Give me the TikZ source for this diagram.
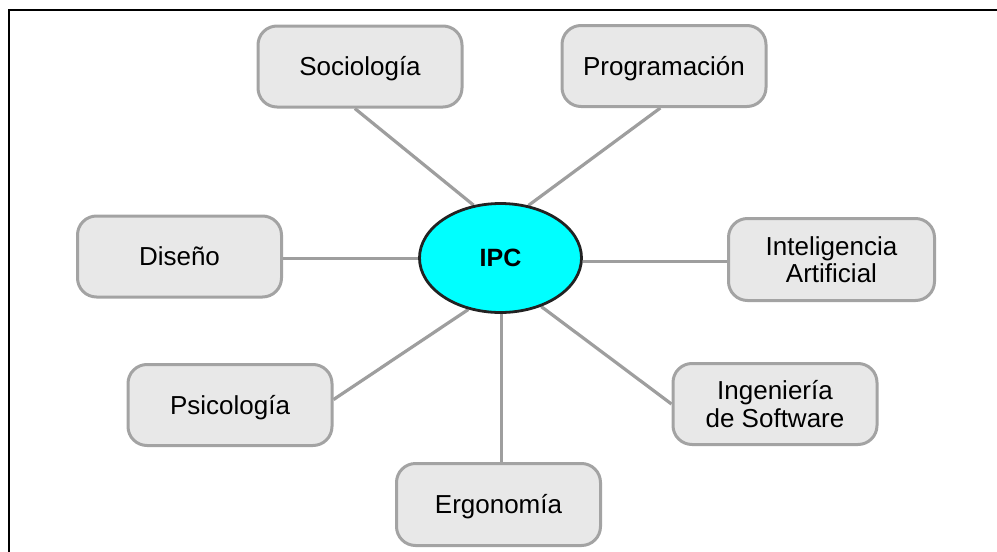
\documentclass[tikz,border=0pt]{standalone}
\usepackage{fontspec}
\setmainfont{Liberation Sans}
\usetikzlibrary{shapes.geometric}
\definecolor{boxfill}{HTML}{E8E8E8}
\definecolor{boxline}{HTML}{A3A3A3}
\definecolor{conn}{HTML}{9E9E9E}
\definecolor{ipcfill}{HTML}{00FFFF}
\definecolor{ipcline}{HTML}{222222}
\pgfdeclarelayer{background}
\pgfsetlayers{background,main}
\begin{document}
\begin{tikzpicture}[x=1pt,y=-1pt,
  topic/.style={draw=boxline, fill=boxfill, line width=3pt, rounded corners=19pt,
    minimum width=204pt, minimum height=81pt, inner sep=0pt,
    font=\fontsize{26}{27.5}\selectfont, align=center},
  oneline/.style={text height=19pt, text depth=1pt},
  hub/.style={ellipse, draw=ipcline, fill=ipcfill, line width=2.8pt,
    minimum width=162pt, minimum height=109pt, inner sep=0pt,
    font=\fontsize{25}{27}\selectfont\bfseries},
  link/.style={draw=conn, line width=3.2pt},
  frameline/.style={line width=2.7pt, draw=black}]
\useasboundingbox (0,0) rectangle (997,552);
\draw[frameline] (9,552) -- (9,10) -- (997,10);

\node[topic,oneline] (soc) at (360,66.5) {Sociología};
\node[topic,oneline] (prog) at (664,66) {Programación};
\node[topic,oneline] (dis) at (179.5,256.5) {Diseño};
\node[topic,minimum width=206pt,minimum height=82pt] (ia) at (831.5,259.5) {Inteligencia\\Artificial};
\node[topic,oneline] (psi) at (230,405) {Psicología};
\node[topic] (ing) at (775,404) {Ingeniería\\de Software};
\node[topic,oneline,minimum height=82pt] (ergo) at (498.5,504.5) {Ergonomía};
\node[hub] (ipc) at (500.5,258) {IPC};

\begin{pgfonlayer}{background}
\draw[link] (soc.263) -- (ipc.117);
\draw[link] (prog.265) -- (ipc.62);
\draw[link] (dis.-1.4) -- (dis.-1.4 -| ipc.west);
\draw[link] (ipc.east |- ia.181) -- (ia.181);
\draw[link] (psi.3) -- (ipc.238);
\draw[link] (ipc.south -| ergo.86) -- (ergo.86);
\draw[link] (ipc.310) -- (ing.west);
\end{pgfonlayer}
\end{tikzpicture}
\end{document}
